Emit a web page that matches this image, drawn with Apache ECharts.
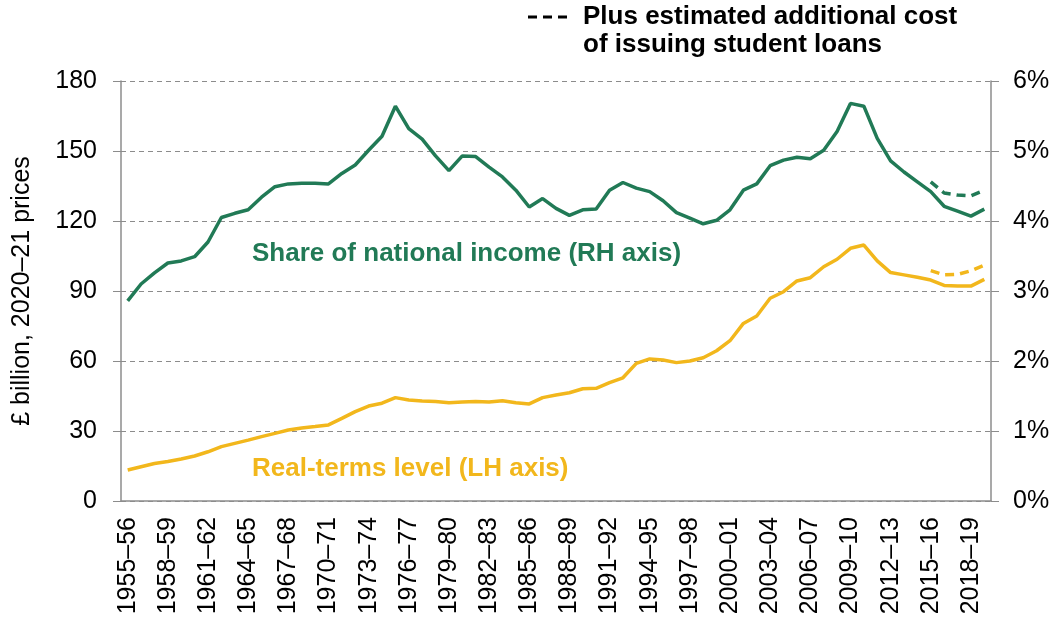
<!DOCTYPE html>
<html>
<head>
<meta charset="utf-8">
<script src="https://cdn.jsdelivr.net/npm/echarts@6/dist/echarts.min.js"></script>
<style>
  html, body { margin: 0; padding: 0; background: #fff; }
  #main { width: 1058px; height: 621px; }
</style>
</head>
<body>
<div id="main"></div>
<script>
// years 1955-56 .. 2019-20
var years = [];
for (var y = 1955; y <= 2019; y++) {
  years.push(y + '\u2013' + String((y + 1) % 100).padStart(2, '0'));
}

// share of national income, % (RH axis)
var shareIncome = [
  2.86, 3.10, 3.26, 3.40, 3.43, 3.49, 3.70, 4.05, 4.11, 4.16,
  4.34, 4.49, 4.53, 4.54, 4.54, 4.53, 4.68, 4.80, 5.01, 5.21,
  5.64, 5.32, 5.17, 4.93, 4.72, 4.93, 4.92, 4.77, 4.63, 4.44,
  4.20, 4.32, 4.18, 4.08, 4.16, 4.17, 4.44, 4.55, 4.47, 4.42,
  4.29, 4.12, 4.04, 3.96, 4.01, 4.16, 4.44, 4.53, 4.79, 4.87,
  4.91, 4.89, 5.01, 5.28, 5.68, 5.64, 5.18, 4.86, 4.70, 4.56,
  4.42, 4.21, 4.14, 4.07, 4.17
];
// with student loan cost, 2015-16 onwards
var shareIncomeLoans = [4.56, 4.40, 4.37, 4.36, 4.44];

// real-terms level, £bn 2020-21 prices (LH axis)
var realLevel = [
  13.3, 14.7, 16.1, 16.9, 18.0, 19.3, 21.1, 23.3, 24.7, 26.1,
  27.6, 29.0, 30.4, 31.3, 31.9, 32.6, 35.4, 38.3, 40.7, 41.9,
  44.3, 43.3, 42.9, 42.6, 42.1, 42.4, 42.6, 42.4, 43.0, 42.1,
  41.6, 44.3, 45.4, 46.4, 48.1, 48.3, 50.7, 52.8, 59.0, 60.9,
  60.4, 59.3, 60.0, 61.4, 64.4, 68.7, 76.1, 79.3, 86.9, 89.7,
  94.3, 95.7, 100.4, 103.6, 108.3, 109.7, 102.9, 97.9, 96.9, 95.9,
  94.7, 92.4, 92.1, 92.1, 95.0
];
var realLevelLoans = [98.7, 96.9, 97.1, 98.7, 101.1];

var loansStart = 60;

function padFront(arr) {
  var out = [];
  for (var i = 0; i < loansStart; i++) out.push(null);
  return out.concat(arr);
}

var GREEN = '#217a56';
var GOLD = '#f2b71c';
var FONT = '"Liberation Sans", Arial, sans-serif';

var chart = echarts.init(document.getElementById('main'));

var option = {
  animation: false,
  textStyle: { fontFamily: FONT },
  grid: { left: 121, right: 67, top: 81, bottom: 120, containLabel: false },
  xAxis: {
    type: 'category',
    data: years,
    boundaryGap: true,
    axisLine: { lineStyle: { color: '#8c8c8c', width: 1.5 } },
    axisTick: { interval: 0, length: 7, lineStyle: { color: '#8c8c8c' } },
    axisLabel: {
      interval: 2,
      rotate: 90,
      margin: 16,
      fontSize: 25,
      color: '#000',
      fontFamily: FONT
    }
  },
  yAxis: [{
    type: 'value',
    min: 0,
    max: 180,
    interval: 30,
    name: '\u00a3 billion, 2020\u201321 prices',
    nameLocation: 'middle',
    nameGap: 86,
    nameTextStyle: { fontSize: 25, color: '#000', fontFamily: FONT },
    axisLine: { show: true, lineStyle: { color: '#8c8c8c', width: 1.5 } },
    axisTick: { show: true, length: 8, lineStyle: { color: '#8c8c8c' } },
    axisLabel: { fontSize: 25, color: '#000', margin: 24, fontFamily: FONT },
    splitLine: { lineStyle: { color: '#8c8c8c', type: [5, 4], width: 1.2 } }
  }, {
    type: 'value',
    min: 0,
    max: 6,
    interval: 1,
    position: 'right',
    axisLine: { show: true, lineStyle: { color: '#8c8c8c', width: 1.5 } },
    axisTick: { show: true, length: 8, lineStyle: { color: '#8c8c8c' } },
    axisLabel: { fontSize: 25, color: '#000', margin: 22, formatter: '{value}%', fontFamily: FONT },
    splitLine: { show: false }
  }],
  series: [{
    name: 'Share of national income',
    type: 'line',
    yAxisIndex: 1,
    data: shareIncome,
    showSymbol: false,
    lineStyle: { color: GREEN, width: 3.5 },
    z: 3
  }, {
    name: 'Share incl. student loans',
    type: 'line',
    yAxisIndex: 1,
    data: padFront(shareIncomeLoans),
    showSymbol: false,
    lineStyle: { color: GREEN, width: 3.5, type: [9, 6] },
    z: 3
  }, {
    name: 'Real-terms level',
    type: 'line',
    yAxisIndex: 0,
    data: realLevel,
    showSymbol: false,
    lineStyle: { color: GOLD, width: 3.5 },
    z: 3
  }, {
    name: 'Real-terms incl. student loans',
    type: 'line',
    yAxisIndex: 0,
    data: padFront(realLevelLoans),
    showSymbol: false,
    lineStyle: { color: GOLD, width: 3.5, type: [9, 6] },
    z: 3
  }],
  graphic: [{
    type: 'text',
    left: 252,
    top: 241,
    style: {
      text: 'Share of national income (RH axis)',
      font: 'bold 26px ' + FONT,
      fill: GREEN
    }
  }, {
    type: 'text',
    left: 252,
    top: 456,
    style: {
      text: 'Real-terms level (LH axis)',
      font: 'bold 26px ' + FONT,
      fill: GOLD
    }
  }, {
    type: 'line',
    shape: { x1: 528, y1: 17, x2: 567, y2: 17 },
    style: { stroke: '#000', lineWidth: 3, lineDash: [9, 6] }
  }, {
    type: 'text',
    left: 583,
    top: 3,
    style: {
      text: 'Plus estimated additional cost\nof issuing student loans',
      font: 'bold 26px ' + FONT,
      lineHeight: 28,
      fill: '#000'
    }
  }]
};

chart.setOption(option);
</script>
</body>
</html>
